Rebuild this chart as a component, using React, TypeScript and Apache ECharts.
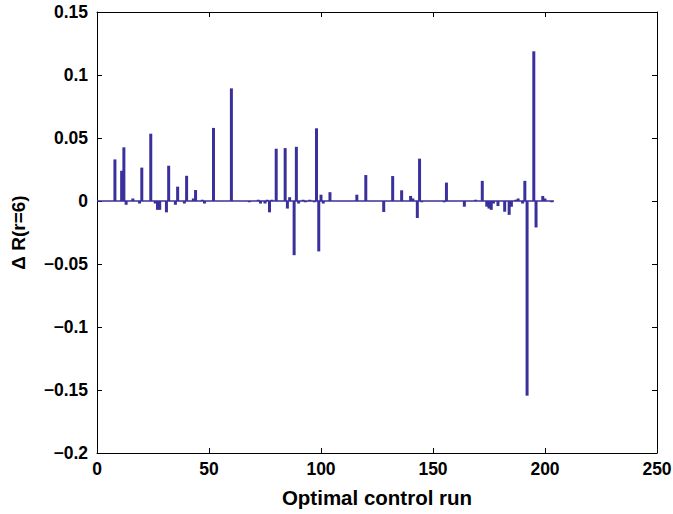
import React, { useEffect, useRef } from "react";
import * as echarts from "echarts";

const runs = [8, 11, 12, 13, 16, 19, 20, 24, 26, 27, 28, 31, 32, 35, 36, 39, 40, 43, 44, 47, 48, 52, 60,
  68, 72, 73, 75, 76, 77, 78, 80, 84, 85, 86, 88, 89, 90, 92, 93, 95, 97, 98, 99, 100, 101, 104, 116, 120,
  128, 132, 136, 140, 141, 143, 144, 145, 155, 156, 164, 169, 172, 174, 175, 176, 177, 179, 182, 184, 185,
  187, 188, 190, 191, 192, 195, 196, 199, 200, 203];
const deltas = [0.033, 0.024, 0.0426, -0.003, 0.002, -0.002, 0.0265, 0.0534, -0.002, -0.007, -0.007, -0.009, 0.028,
  -0.003, 0.0114, -0.002, 0.020, 0.002, 0.0087, 0.001, -0.002, 0.058, 0.0894,
  -0.001, 0.001, -0.002, -0.002, 0.001, -0.009, 0.001, 0.0415, 0.042, -0.006, 0.003, -0.043, 0.043, -0.002,
  0.001, -0.001, 0.001, -0.001, 0.0577, -0.040, 0.005, -0.002, 0.007, 0.005, 0.0206,
  -0.0087, 0.0198, 0.0085, 0.004, 0.002, -0.0135, 0.0336, -0.001, -0.001, 0.0146, -0.0045, 0.001, 0.016,
  -0.0045, -0.006, -0.007, -0.002, -0.004, -0.0085, -0.011, -0.0045,
  0.001, 0.002, -0.002, 0.016, -0.1545, 0.1188, -0.021, 0.004, 0.002, -0.001];
const baselineRange = [0, 204];
const xTicks = { min: 0, max: 250, interval: 50 };
const yTicks = { min: -0.2, max: 0.15, interval: 0.05 };

const COLOR = "#3a309c";
const FONT = "'Liberation Sans', Arial, sans-serif";

const fmtY = (v: number) => {
  if (Math.abs(v) < 1e-9) return "0";
  return String(+v.toFixed(2)).replace("-", "\u2212");
};

export default function App() {
  const ref = useRef<HTMLDivElement>(null);
  useEffect(() => {
    if (!ref.current) return;
    const chart = echarts.init(ref.current, undefined, { renderer: "svg" });
    const axisCommon = {
      axisLine: { show: true, onZero: false, lineStyle: { color: "#000", width: 1 } },
      axisTick: { show: true, inside: true, length: 5, lineStyle: { color: "#000", width: 1 } },
      splitLine: { show: false },
    };
    chart.setOption({
      animation: false,
      backgroundColor: "#fff",
      grid: { left: 97, top: 12, width: 560, height: 441, containLabel: false, outerBoundsMode: "none" },
      xAxis: [
        {
          type: "value", ...xTicks, position: "bottom", ...axisCommon,
          axisLabel: { color: "#000", fontFamily: FONT, fontWeight: "bold", fontSize: 17.5, margin: 7 },
          name: "Optimal control run", nameLocation: "middle", nameGap: 34,
          nameTextStyle: { color: "#000", fontFamily: FONT, fontWeight: "bold", fontSize: 20.5 },
        },
        {
          type: "value", ...xTicks, position: "top", ...axisCommon,
          axisLabel: { show: false },
        },
      ],
      yAxis: [
        {
          type: "value", ...yTicks, position: "left", ...axisCommon,
          axisLabel: { color: "#000", fontFamily: FONT, fontWeight: "bold", fontSize: 17.5, margin: 9, formatter: fmtY },
          name: "\u0394 R(r=6)", nameLocation: "middle", nameGap: 69, nameRotate: 90,
          nameTextStyle: { color: "#000", fontFamily: FONT, fontWeight: "bold", fontSize: 19 },
        },
        {
          type: "value", ...yTicks, position: "right", ...axisCommon,
          axisLabel: { show: false },
        },
      ],
      series: [
        {
          type: "line",
          data: baselineRange.map((x) => [x, 0]),
          showSymbol: false,
          symbol: "none",
          lineStyle: { color: COLOR, width: 1.5 },
          z: 2,
        },
        {
          type: "bar",
          data: runs.map((r, i) => [r, deltas[i]]),
          barWidth: 3,
          itemStyle: { color: COLOR },
          z: 3,
        },
      ],
    });
    return () => chart.dispose();
  }, []);
  return <div ref={ref} style={{ position: "absolute", left: 0, top: 0, width: 673, height: 514 }} />;
}
